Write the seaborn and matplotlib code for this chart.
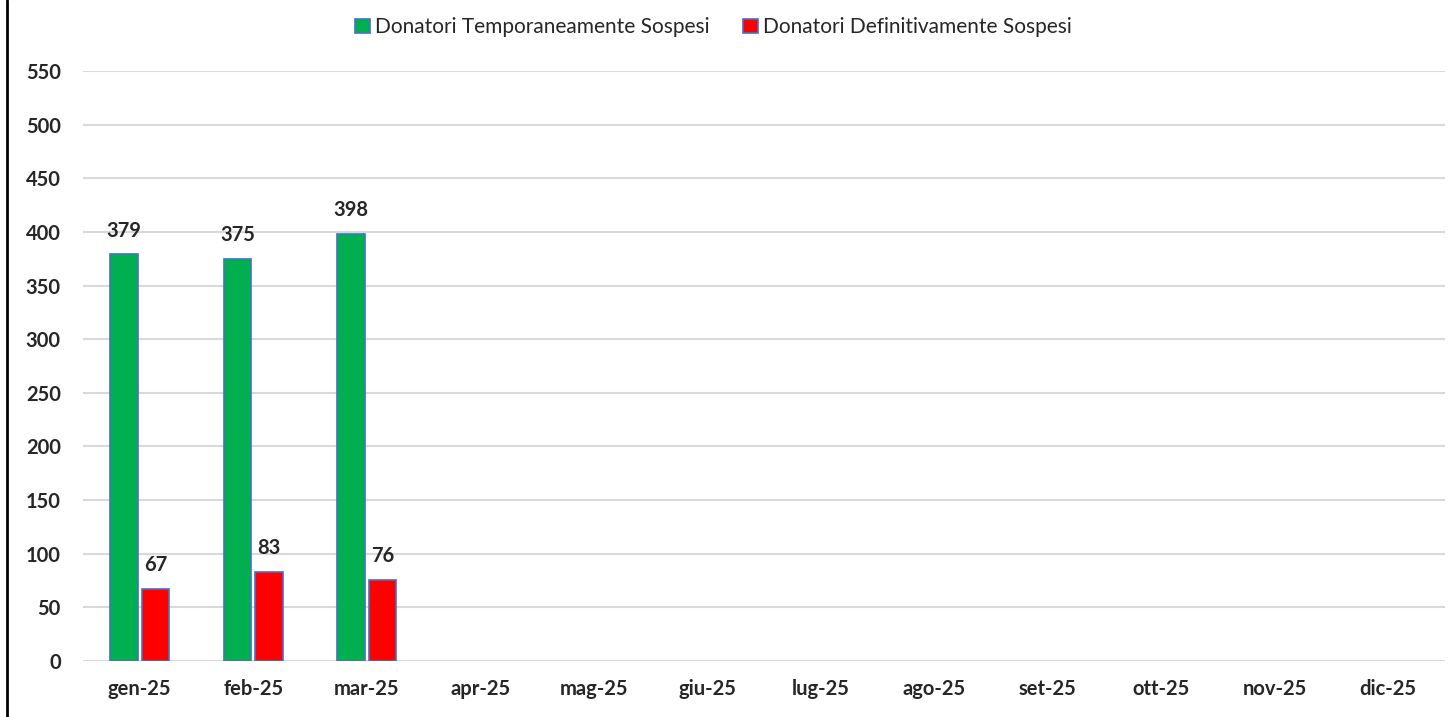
import pandas as pd
import numpy as np
import matplotlib.pyplot as plt
import seaborn as sns
from matplotlib.lines import Line2D

# data
mesi = ["gen-25", "feb-25", "mar-25", "apr-25", "mag-25", "giu-25",
        "lug-25", "ago-25", "set-25", "ott-25", "nov-25", "dic-25"]
temporanei = [379, 375, 398, np.nan, np.nan, np.nan, np.nan, np.nan, np.nan, np.nan, np.nan, np.nan]
definitivi = [67, 83, 76, np.nan, np.nan, np.nan, np.nan, np.nan, np.nan, np.nan, np.nan, np.nan]
serie = ["Donatori Temporaneamente Sospesi", "Donatori Definitivamente Sospesi"]
colori = ["#00B050", "#FF0000"]

df = pd.DataFrame({
    "mese": mesi * 2,
    "valore": temporanei + definitivi,
    "serie": [serie[0]] * len(mesi) + [serie[1]] * len(mesi),
})

sns.set_style("white")
plt.rcParams['font.family'] = ['Lato', 'DejaVu Sans']

fig = plt.figure(figsize=(14.56, 7.17), dpi=100)
ax = fig.add_axes([0.057, 0.078, 0.9354, 0.823])

sns.barplot(data=df, x="mese", y="valore", hue="serie", order=mesi,
            hue_order=serie, palette=colori, saturation=1, width=0.55, gap=0.12,
            edgecolor="#4472C4", linewidth=1.2, ax=ax, legend=True)

# value labels (skip the empty months)
for cont in ax.containers:
    for bar in cont:
        if bar is None or np.isnan(bar.get_height()):
            continue
        h = bar.get_height()
        ax.annotate(f"{int(round(h))}", (bar.get_x() + bar.get_width() / 2, h),
                    xytext=(0, 10), textcoords="offset points", ha="center", va="bottom",
                    fontsize=14.5, fontweight="bold")

ax.set_ylim(0, 550)
ax.set_yticks(np.arange(0, 551, 50))
ax.set_xlim(-0.5, len(mesi) - 0.5)
ax.yaxis.grid(True, color="#D9D9D9", linewidth=1.5)
ax.set_axisbelow(True)
for s in ax.spines.values():
    s.set_visible(False)
ax.set_xlabel("")
ax.set_ylabel("")
ax.tick_params(axis="x", length=0, pad=13, labelsize=14.5)
ax.tick_params(axis="y", length=0, pad=16, labelsize=14.5)
for t in ax.get_xticklabels() + ax.get_yticklabels():
    t.set_fontweight("bold")

ax.get_legend().remove()
handles = [plt.Rectangle((0, 0), 1, 1, facecolor=c, edgecolor="#4472C4", linewidth=1.2) for c in colori]
fig.legend(handles, serie, loc="center", bbox_to_anchor=(0.49, 0.962), ncol=2,
           frameon=False, fontsize=15, handlelength=0.7, handleheight=0.7,
           handletextpad=0.25, columnspacing=1.6)

# left border of the chart frame
fig.add_artist(Line2D([0.0045, 0.0045], [0, 1], color="black", linewidth=2, transform=fig.transFigure))

fig.savefig("out.png", dpi=100)
